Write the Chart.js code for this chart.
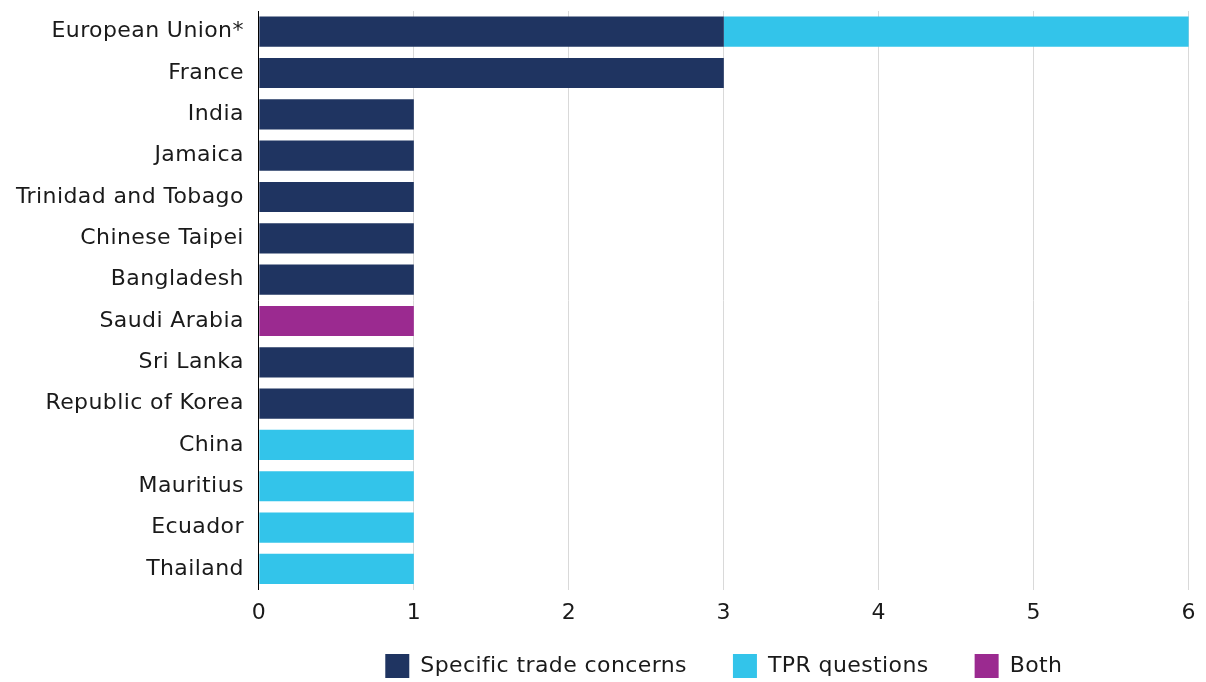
<!DOCTYPE html>
<html>
<head>
<meta charset="utf-8">
<script src="https://cdn.jsdelivr.net/npm/chart.js@4/dist/chart.umd.min.js"></script>
<style>
  html, body { margin: 0; padding: 0; background: #ffffff; }
  #wrap { width: 1206px; height: 682px; position: relative; }
</style>
</head>
<body>
<div id="wrap"><canvas id="chart"></canvas></div>
<script>
const members = [
  "European Union*", "France", "India", "Jamaica", "Trinidad and Tobago",
  "Chinese Taipei", "Bangladesh", "Saudi Arabia", "Sri Lanka",
  "Republic of Korea", "China", "Mauritius", "Ecuador", "Thailand"
];
const specificTradeConcerns = [3, 3, 1, 1, 1, 1, 1, 0, 1, 1, 0, 0, 0, 0];
const tprQuestions          = [3, 0, 0, 0, 0, 0, 0, 0, 0, 0, 1, 1, 1, 1];
const both                  = [0, 0, 0, 0, 0, 0, 0, 1, 0, 0, 0, 0, 0, 0];
const seriesNames = ["Specific trade concerns", "TPR questions", "Both"];
const seriesColors = ["#1f3461", "#33c4ea", "#9b2a90"];
const xTicks = [0, 1, 2, 3, 4, 5, 6];

const FONT = "'DejaVu Sans', sans-serif";
const FONT_SIZE = 22;

// Slightly open tracking for all canvas text (measured and drawn alike).
const letterSpacingPlugin = {
  id: "letterSpacing",
  beforeUpdate(chart) { chart.ctx.letterSpacing = "0.4px"; },
  beforeLayout(chart) { chart.ctx.letterSpacing = "0.4px"; },
  beforeDraw(chart) { chart.ctx.letterSpacing = "0.4px"; }
};

// The legend keeps a small reserved strip in the layout, but its drawing box
// spans the bottom band of the canvas so the wide item spacing fits.
const legendBandPlugin = {
  id: "legendBand",
  afterLayout(chart) {
    if (chart.legend) {
      chart.legend.top = chart.height - 74;
      chart.legend.bottom = chart.height;
      chart.legend.height = 74;
    }
  }
};

new Chart(document.getElementById("chart"), {
  type: "bar",
  plugins: [letterSpacingPlugin, legendBandPlugin],
  data: {
    labels: members,
    datasets: [specificTradeConcerns, tprQuestions, both].map((vals, i) => ({
      label: seriesNames[i],
      data: vals,
      backgroundColor: seriesColors[i],
      borderWidth: 0,
      categoryPercentage: 1,
      barPercentage: 0.73
    }))
  },
  options: {
    indexAxis: "y",
    responsive: true,
    maintainAspectRatio: false,
    animation: false,
    layout: { padding: { top: 11, right: 8, left: 1, bottom: 0 } },
    scales: {
      x: {
        stacked: true,
        min: xTicks[0],
        max: xTicks[xTicks.length - 1],
        afterBuildTicks: (axis) => { axis.ticks = xTicks.map(v => ({ value: v })); },
        grid: { color: "#d9d9d9", lineWidth: 1, drawTicks: false },
        border: { display: false },
        ticks: { color: "#1a1a1a", font: { family: FONT, size: FONT_SIZE }, padding: 10 }
      },
      y: {
        stacked: true,
        afterFit: (axis) => { axis.paddingTop = 0; axis.paddingBottom = 0; },
        grid: { display: false, drawTicks: false },
        border: { display: true, color: "#000000", width: 1 },
        ticks: { color: "#1a1a1a", font: { family: FONT, size: FONT_SIZE }, padding: 15 }
      }
    },
    plugins: {
      tooltip: { enabled: false },
      legend: {
        position: "bottom",
        fullSize: false,
        maxHeight: 46,
        labels: {
          color: "#1a1a1a",
          font: { family: FONT, size: FONT_SIZE },
          boxWidth: 24,
          boxHeight: 24,
          padding: 46
        }
      }
    }
  }
});
</script>
</body>
</html>
